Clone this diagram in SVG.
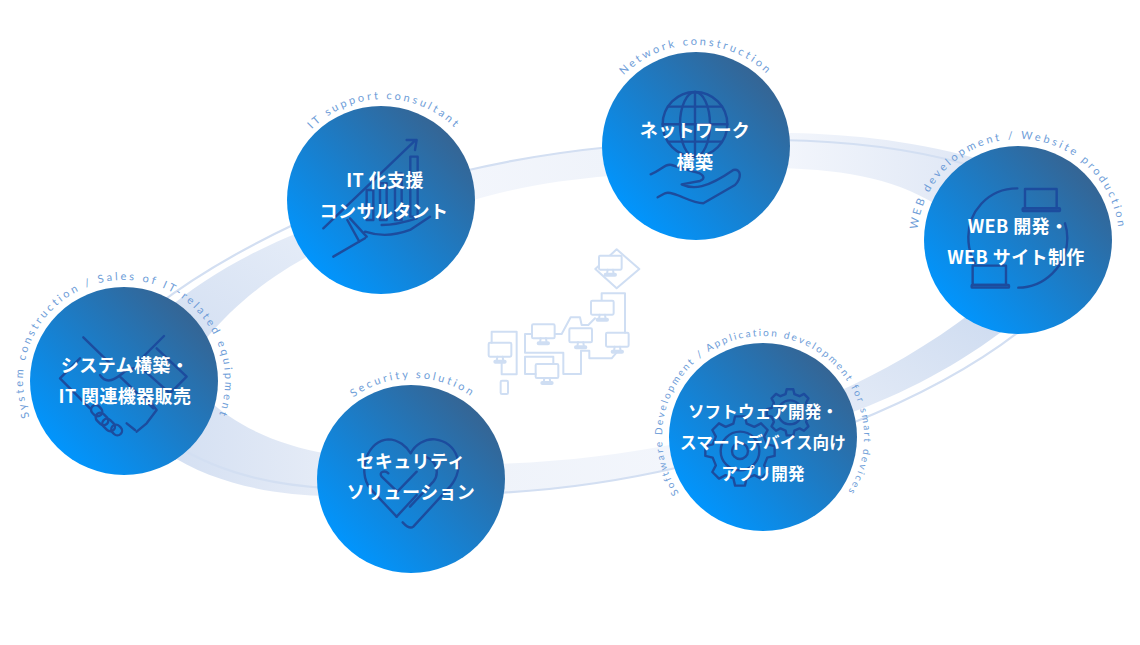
<svg xmlns="http://www.w3.org/2000/svg" xmlns:xlink="http://www.w3.org/1999/xlink" width="1140" height="645" viewBox="0 0 1140 645">
<style>
.disc{fill:url(#disc)}
.jp{font-family:"Noto Sans CJK JP","Noto Sans",sans-serif;font-weight:700;font-size:18px;fill:#fff;text-anchor:middle;letter-spacing:.4px}
.sm{font-size:16.6px;letter-spacing:.1px}
.en{font-family:"Lato","Liberation Sans",sans-serif;font-size:11px;fill:#6e9dd8;text-anchor:middle;letter-spacing:2.75px}
.en2{font-size:10px;letter-spacing:2.15px}
.ic{fill:none;stroke:#1c4c9e;stroke-width:2.4;stroke-linecap:round;stroke-linejoin:round}
.ic *,.ns{vector-effect:non-scaling-stroke}
.map{fill:none;stroke:#cfdef3;stroke-width:2;stroke-linejoin:round;stroke-linecap:round}
.map *{vector-effect:non-scaling-stroke}
.thin{fill:none;stroke:#d3dff2;stroke-width:2.2}
</style>
<defs>
<linearGradient id="disc" x1="0.13" y1="0.87" x2="0.87" y2="0.13"><stop offset="0" stop-color="#0096ff"/><stop offset="1" stop-color="#366492"/></linearGradient>
<linearGradient id="b1" x1="0" y1="1" x2="1" y2="0"><stop offset="0" stop-color="#d3dff2"/><stop offset="1" stop-color="#e6edf8"/></linearGradient>
<linearGradient id="b2" x1="0" y1="0" x2="1" y2="0"><stop offset="0" stop-color="#f3f6fc"/><stop offset="1" stop-color="#eff3fa"/></linearGradient>
<linearGradient id="b3" x1="0" y1="0" x2="1" y2="0"><stop offset="0" stop-color="#f3f6fc"/><stop offset="1" stop-color="#dfe7f5"/></linearGradient>
<linearGradient id="b4" x1="0" y1="1" x2="1" y2="0"><stop offset="0" stop-color="#e4ebf7"/><stop offset="1" stop-color="#cddbf0"/></linearGradient>
<linearGradient id="b5" x1="0" y1="0" x2="1" y2="0"><stop offset="0" stop-color="#eff3fa"/><stop offset="1" stop-color="#f3f6fc"/></linearGradient>
<linearGradient id="b6" x1="0" y1="0" x2="1" y2="0"><stop offset="0" stop-color="#d3dff2"/><stop offset="1" stop-color="#e6ecf7"/></linearGradient>
<path id="gear" class="ns" d="M78,-19L99,-14L99,14L78,19L69,41L79,60L60,79L41,69L19,78L14,99L-14,99L-19,78L-41,69L-60,79L-79,60L-69,41L-78,19L-99,14L-99,-14L-78,-19L-69,-41L-79,-60L-60,-79L-41,-69L-19,-78L-14,-99L14,-99L19,-78L41,-69L60,-79L79,-60L69,-41Z"/>
<g id="mon"><rect class="ns" x="0" y="0" width="68" height="42" rx="4"/><path class="ns" d="M26,42L24,56M42,42L44,56"/><rect class="ns" x="17" y="54" width="34" height="6" rx="3"/></g>
<path id="pc1" d="M124,482A101,101 0 1 1 124,280A101,101 0 1 1 124,482"/>
<path id="pc2" d="M384,301A101,101 0 1 1 384,99A101,101 0 1 1 384,301"/>
<path id="pc3" d="M696,247A101,101 0 1 1 696,45A101,101 0 1 1 696,247"/>
<path id="pc4" d="M1018,341A101,101 0 1 1 1018,139A101,101 0 1 1 1018,341"/>
<path id="pc5" d="M763,538A101,101 0 1 1 763,336A101,101 0 1 1 763,538"/>
<path id="pc6" d="M413,580A101,101 0 1 1 413,378A101,101 0 1 1 413,580"/>
</defs>
<rect width="1140" height="645" fill="#fff"/>
<g id="connectors">
<path fill="url(#b1)" d="M160,315C200,280 250,252 300,232L320,250C280,270 240,298 205,340Z"/>
<path class="thin" d="M155,307C190,280 240,250 295,224"/>
<path fill="url(#b2)" d="M460,172C510,160 560,152 610,147L610,176C560,180 510,188 460,204Z"/>
<path class="thin" d="M460,172C510,160 560,152 610,147"/>
<path fill="url(#b3)" d="M780,133C840,133 910,140 975,158L945,210C900,180 850,170 780,168Z"/>
<path class="thin" d="M780,140C840,141 905,147 965,164"/>
<path fill="url(#b4)" d="M835,393C880,373 930,345 975,310L1010,325C960,365 900,395 850,413Z"/>
<path class="thin" d="M850,424C910,400 975,367 1025,327"/>
<path fill="url(#b5)" d="M495,464C560,462 620,455 680,443L680,467C620,481 560,490 495,493Z"/>
<path class="thin" d="M495,493C560,490 620,481 680,467"/>
<path fill="url(#b6)" d="M205,397C235,425 275,445 330,454L330,496C275,495 215,485 165,452Z"/>
<path class="thin" d="M175,445C215,470 265,485 330,488"/>
</g>
<g id="map" class="map" transform="translate(480,240) scale(.3333)">
<path d="M410,28L478,87L410,145L346,87Z"/>
<use href="#mon" x="357" y="47" fill="#fff"/>
<use href="#mon" x="333" y="182" fill="#fff"/>
<use href="#mon" x="156" y="253" fill="#fff"/>
<use href="#mon" x="268" y="265" fill="#fff"/>
<use href="#mon" x="378" y="278" fill="#fff"/>
<use href="#mon" x="26" y="308" fill="#fff"/>
<use href="#mon" x="167" y="372" fill="#fff"/>
<path d="M365,180V160H435V278M225,282H245L272,232H300L305,255H325L345,235M156,282H135V338H250V402H303V332H328V355H395L412,335M167,402H135V350H220V372M35,308V275H110V403H65V368"/>
<rect x="62" y="422" width="22" height="40" rx="4"/>
</g>
<g id="node-system">
<circle class="disc" cx="124" cy="381" r="94"/>
<g class="ic" transform="translate(0,260) scale(.3333)">
<path d="M250,232L330,310M492,228L415,305M240,295L180,355L270,445M470,265L560,350L510,400M300,345C320,375 345,360 380,330L420,320L510,400M360,350L460,445M430,400L470,450L440,490L410,515M380,490L405,510"/>
<rect x="272" y="438" width="36" height="28" rx="14" transform="rotate(45 290 452)"/>
<rect x="285" y="463" width="42" height="28" rx="14" transform="rotate(45 306 477)"/>
<rect x="305" y="481" width="42" height="28" rx="14" transform="rotate(45 326 495)"/>
<rect x="333" y="496" width="34" height="28" rx="14" transform="rotate(45 350 510)"/>
</g>
<text class="jp" x="125" y="372">システム構築・</text>
<text class="jp" x="125" y="403">IT 関連機器販売</text>
<text class="en"><textPath href="#pc1" startOffset="50%">System construction / Sales of IT-related equipment</textPath></text>
</g>
<g id="node-it">
<circle class="disc" cx="381" cy="200" r="94"/>
<g class="ic" transform="translate(270,90) scale(.3333)">
<path d="M160,415L435,152M410,150H440L435,180M190,500L285,445M232,390L268,455M240,385L290,440M285,425C330,440 380,435 420,420L480,380M335,405C370,405 410,395 440,385"/>
<rect x="290" y="300" width="20" height="90"/><rect x="330" y="280" width="20" height="110"/><rect x="375" y="250" width="20" height="140"/><rect x="421" y="200" width="22" height="180"/>
</g>
<text class="jp" x="385" y="187">IT 化支援</text>
<text class="jp" x="384" y="218">コンサルタント</text>
<text class="en"><textPath href="#pc2" startOffset="50%">IT support consultant</textPath></text>
</g>
<g id="node-network">
<circle class="disc" cx="696" cy="146" r="94"/>
<g class="ic" transform="translate(590,25) scale(.3333)">
<circle cx="315" cy="298" r="97"/><ellipse cx="315" cy="298" rx="45" ry="97"/>
<path d="M315,201V395M235,245H395M218,298H412M235,350H395"/>
<path d="M182,448C215,435 225,415 245,420L310,440C340,445 350,460 330,468L275,478C310,495 350,490 430,435C455,430 455,460 435,480L340,535C300,535 250,495 225,505L203,517"/>
</g>
<text class="jp" x="695" y="137">ネットワーク</text>
<text class="jp" x="695" y="169">構築</text>
<text class="en"><textPath href="#pc3" startOffset="50%">Network construction</textPath></text>
</g>
<g id="node-web">
<circle class="disc" cx="1018" cy="240" r="94"/>
<g class="ic" transform="translate(890,120) scale(.3333)">
<path d="M382,205C290,205 235,280 235,350C235,380 243,410 255,430M525,310C532,330 532,345 532,355C532,440 460,503 385,503"/>
<rect x="405" y="207" width="95" height="58"/><rect x="398" y="265" width="112" height="8" rx="2"/>
<rect x="248" y="437" width="100" height="58"/><rect x="245" y="495" width="112" height="8" rx="2"/>
</g>
<text class="jp" x="1018" y="233">WEB 開発・</text>
<text class="jp" x="1016" y="264">WEB サイト制作</text>
<text class="en"><textPath href="#pc4" startOffset="50%">WEB development / Website production</textPath></text>
</g>
<g id="node-software">
<circle class="disc" cx="763" cy="437" r="94"/>
<g class="ic" transform="translate(650,320) scale(.3333)">
<use href="#gear" transform="translate(270,393) scale(1.05)"/>
<circle cx="270" cy="393" r="58"/><circle cx="270" cy="393" r="24"/>
<use href="#gear" transform="translate(420,277) scale(.7)"/>
<circle cx="420" cy="277" r="36"/>
</g>
<text class="jp sm" x="763" y="418">ソフトウェア開発・</text>
<text class="jp sm" x="763" y="449">スマートデバイス向け</text>
<text class="jp sm" x="763" y="480">アプリ開発</text>
<text class="en en2"><textPath href="#pc5" startOffset="50%">Software Development / Application development for smart devices</textPath></text>
</g>
<g id="node-security">
<circle class="disc" cx="411" cy="479" r="94"/>
<g class="ic" transform="translate(310,360) scale(.3333)">
<path d="M260,470L180,385C140,330 175,240 235,238C265,238 290,260 302,280C315,255 345,235 375,238C440,245 470,320 420,380L310,500C300,508 290,500 278,487"/>
<path d="M260,470L320,405M320,335L262,395L215,350C205,335 225,330 235,340M345,290C380,300 390,340 370,365L300,440"/>
</g>
<text class="jp" x="411" y="468">セキュリティ</text>
<text class="jp" x="411" y="499">ソリューション</text>
<text class="en"><textPath href="#pc6" startOffset="50%">Security solution</textPath></text>
</g>
</svg>
